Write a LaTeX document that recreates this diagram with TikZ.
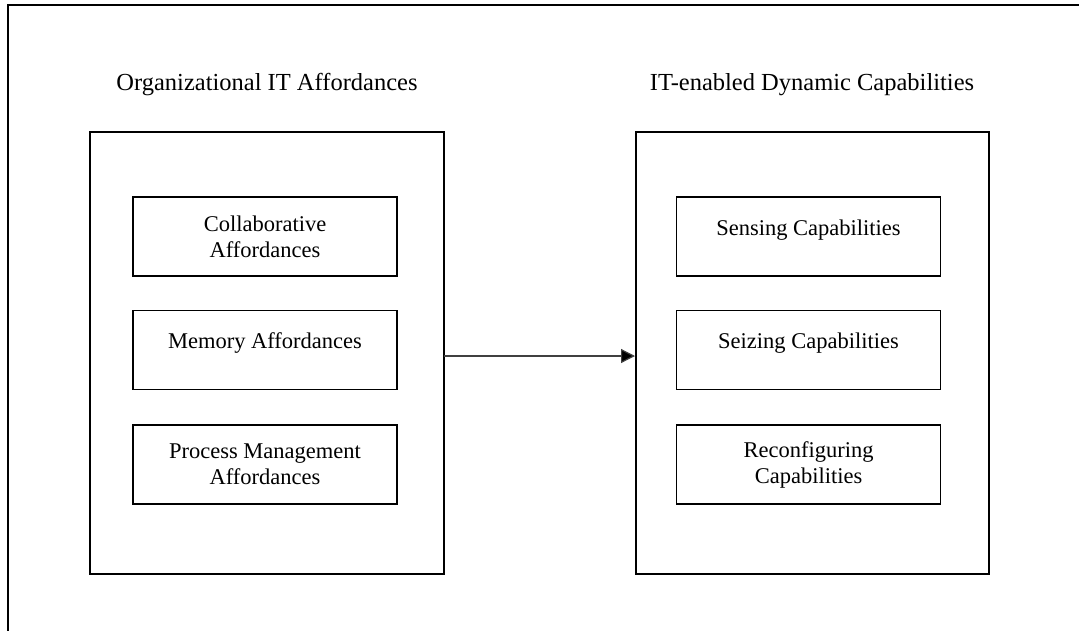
\documentclass[tikz,border=0pt]{standalone}
\usepackage{fontspec}
\setmainfont{Liberation Serif}
\usetikzlibrary{arrows.meta}
\begin{document}
\begin{tikzpicture}[x=1pt,y=-1pt,
  bigbox/.style={draw, line width=2pt},
  inbox/.style={draw, line width=1.8pt, minimum width=264pt, minimum height=79pt, align=center, font=\fontsize{22.5}{26}\selectfont, inner sep=0pt},
  inboxone/.style={draw, line width=1.8pt, minimum width=264pt, minimum height=79pt, font=\fontsize{22.5}{26}\selectfont, inner sep=0pt, text height=15pt, text depth=17.5pt},
  ttl/.style={font=\fontsize{24.5}{28}\selectfont, inner sep=0pt},
  conn/.style={line width=1.2pt, draw=black!75, -{Triangle[length=14pt,width=14pt,fill=black]}}]
\useasboundingbox (0,0) rectangle (1079,630);
\draw[line width=2pt] (8,640) -- (8,5) -- (1090,5);
\node[ttl] (t1) at (267,85) {Organizational IT Affordances};
\node[ttl] (t2) at (812,85) {IT-enabled Dynamic Capabilities};
\draw[bigbox] (90,132) rectangle (444,574);
\draw[bigbox] (636,132) rectangle (989,574);
\coordinate (L) at (444,356);
\coordinate (R) at (635,356);
\node[inbox] (a1) at (265,236.5) {Collaborative\\Affordances};
\node[inboxone] (a2) at (265,350) {Memory Affordances};
\node[inbox] (a3) at (265,464.5) {Process Management\\Affordances};
\node[inboxone] (c1) at (808.5,236.5) {Sensing Capabilities};
\node[inboxone] (c2) at (808.5,350) {Seizing Capabilities};
\node[inbox] (c3) at (808.5,464.5) {Reconfiguring\\Capabilities};
\draw[conn] (L) -- (R);
\end{tikzpicture}
\end{document}
